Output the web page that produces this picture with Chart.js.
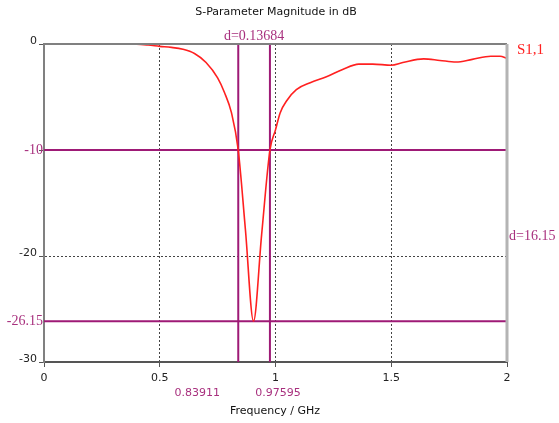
<!DOCTYPE html>
<html>
<head>
<meta charset="utf-8">
<script src="https://cdn.jsdelivr.net/npm/chart.js@4"></script>
<style>
  html, body { margin: 0; padding: 0; background: #fff; }
  #wrap { width: 559px; height: 423px; }
</style>
</head>
<body>
<div id="wrap"><canvas id="chart" width="559" height="423"></canvas></div>
<script>
// S1,1 magnitude
const freqGHz = [0, 0.1, 0.2, 0.3, 0.4, 0.45, 0.5, 0.55, 0.6, 0.65, 0.7, 0.75, 0.78, 0.81, 0.839,
  0.87, 0.905, 0.94, 0.976, 1.0, 1.02, 1.05, 1.09, 1.15, 1.22, 1.29, 1.36, 1.42, 1.5, 1.55,
  1.64, 1.71, 1.78, 1.85, 1.93, 1.97, 2.0];
const s11dB = [0, 0, 0, 0, -0.02, -0.1, -0.22, -0.32, -0.5, -0.9, -1.75, -3.2, -4.6, -6.5, -10,
  -17.5, -26.15, -18, -10, -8.1, -6.5, -5.3, -4.3, -3.65, -3.1, -2.4, -1.9, -1.9, -2.0, -1.75,
  -1.4, -1.55, -1.7, -1.45, -1.15, -1.15, -1.35];

// markers
const markerFreqs = [0.83911, 0.97595];
const markerLevels = [-10, -26.15];
const markerFreqLabels = ["0.83911", "0.97595"];
const markerLevelLabels = ["-10", "-26.15"];
const deltaFreqLabel = "d=0.13684";
const deltaLevelLabel = "d=16.15";

const yTicks = [-30, -20, -10, 0];
const xMin = 0, xMax = 2, yMin = -30, yMax = 0;

const PURPLE = "#9e1a76";
const PURPLE_TEXT = "#a8307e";
const RED = "#ff2020";

const markerSets = [];
markerFreqs.forEach((f) => {
  markerSets.push({
    data: [{ x: f, y: yMin }, { x: f, y: yMax }],
    borderColor: PURPLE, borderWidth: 2, pointRadius: 0, order: 2,
  });
});
markerLevels.forEach((l) => {
  markerSets.push({
    data: [{ x: xMin, y: l }, { x: xMax, y: l }],
    borderColor: PURPLE, borderWidth: 2, pointRadius: 0, order: 2,
  });
});

// frame, title and marker labels
const annotate = {
  id: "annotate",
  afterDraw(chart) {
    const ctx = chart.ctx;
    const xs = chart.scales.x, ys = chart.scales.y;
    const a = chart.chartArea;
    ctx.save();
    // top and right frame
    ctx.strokeStyle = "#808080";
    ctx.lineWidth = 2;
    ctx.beginPath();
    ctx.moveTo(a.left, a.top);
    ctx.lineTo(a.right, a.top);
    ctx.stroke();
    ctx.strokeStyle = "#b4b4b4";
    ctx.lineWidth = 3;
    ctx.beginPath();
    ctx.moveTo(a.right, a.top);
    ctx.lineTo(a.right, a.bottom);
    ctx.stroke();

    ctx.fillStyle = "#111";
    ctx.font = "11px 'DejaVu Sans'";
    ctx.textAlign = "center";
    ctx.textBaseline = "middle";
    ctx.fillText("S-Parameter Magnitude in dB", 276, 12);
    ctx.fillText("Frequency / GHz", 275, 411);

    // marker labels
    ctx.fillStyle = PURPLE_TEXT;
    const fx = markerFreqs.map((f) => xs.getPixelForValue(f));
    ctx.fillText(markerFreqLabels[0], fx[0] - 41, 393);
    ctx.fillText(markerFreqLabels[1], fx[1] + 8, 393);

    ctx.font = "14px 'Liberation Serif'";
    ctx.fillText(deltaFreqLabel, (fx[0] + fx[1]) / 2, 36);
    ctx.textAlign = "right";
    markerLevels.forEach((l, i) => {
      ctx.fillText(markerLevelLabels[i], a.left - 1, ys.getPixelForValue(l));
    });
    ctx.textAlign = "left";
    const ly = markerLevels.map((l) => ys.getPixelForValue(l));
    ctx.fillText(deltaLevelLabel, a.right + 2, (ly[0] + ly[1]) / 2 + 1);

    ctx.fillStyle = RED;
    ctx.font = "15px 'Liberation Serif'";
    ctx.fillText("S1,1", a.right + 10, ys.getPixelForValue(s11dB[s11dB.length - 1]) - 8);
    ctx.restore();
  },
};

const gridColor = (ctx, edges) =>
  edges.includes(ctx.tick && ctx.tick.value) ? "rgba(0,0,0,0)" : "#444";

new Chart(document.getElementById("chart"), {
  type: "line",
  data: {
    datasets: [
      {
        label: "S1,1",
        data: freqGHz.map((f, i) => ({ x: f, y: s11dB[i] })),
        borderColor: RED,
        borderWidth: 1.6,
        pointRadius: 0,
        cubicInterpolationMode: "monotone",
        order: 1,
      },
      ...markerSets,
    ],
  },
  options: {
    responsive: false,
    animation: false,
    layout: { padding: { top: 44, right: 52, left: 0, bottom: 0 } },
    plugins: { legend: { display: false }, tooltip: { enabled: false } },
    scales: {
      x: {
        type: "linear",
        min: xMin,
        max: xMax,
        afterFit: (s) => { s.height = 61; },
        ticks: {
          stepSize: 0.5,
          color: "#222",
          font: { family: "DejaVu Sans", size: 11 },
          padding: 5,
          maxRotation: 0,
          callback: (v) => String(v),
        },
        border: { color: "#555", width: 2, dash: [2, 2] },
        grid: {
          color: (c) => gridColor(c, [xMin, xMax]),
          tickColor: "#555",
          tickLength: 5,
          tickBorderDash: [],
        },
      },
      y: {
        type: "linear",
        min: yMin,
        max: yMax,
        afterFit: (s) => { s.width = 44; },
        afterBuildTicks: (s) => { s.ticks = yTicks.map((v) => ({ value: v })); },
        ticks: {
          color: "#222",
          font: { family: "DejaVu Sans", size: 11 },
          padding: 2,
          labelOffset: -3,
          callback: (v) => (markerLevels.includes(v) ? "" : String(v)),
        },
        border: { color: "#808080", width: 2, dash: [2, 2] },
        grid: {
          color: (c) => gridColor(c, [yMin, yMax]),
          tickColor: "#555",
          tickLength: 5,
          tickBorderDash: [],
        },
      },
    },
  },
  plugins: [annotate],
});
</script>
</body>
</html>
